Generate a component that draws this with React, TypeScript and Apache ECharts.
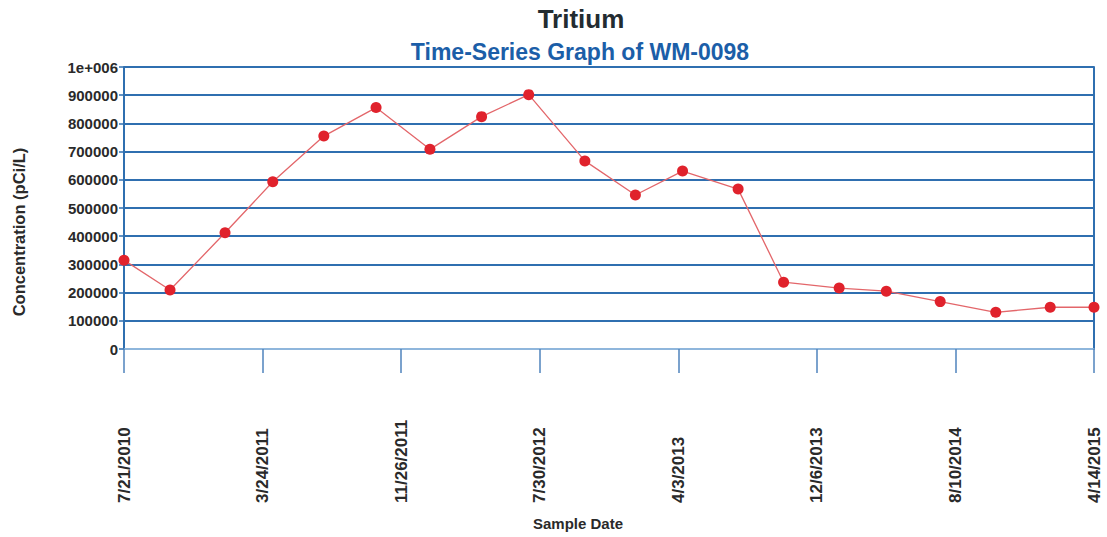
import React, { useEffect, useRef } from "react";
import * as echarts from "echarts";

// ---- data ----
const SAMPLE_DATES = [
  "2010-07-21", "2010-10-11", "2011-01-17", "2011-04-12", "2011-07-12",
  "2011-10-13", "2012-01-17", "2012-04-18", "2012-07-11", "2012-10-19",
  "2013-01-17", "2013-04-11", "2013-07-19", "2013-10-08", "2014-01-15",
  "2014-04-09", "2014-07-14", "2014-10-21", "2015-01-26", "2015-04-14",
];
const CONCENTRATION = [
  315000, 209000, 412000, 593000, 755000,
  856000, 708000, 824000, 902000, 667000,
  546000, 631000, 567000, 237000, 216000,
  205000, 168000, 130000, 148000, 148000,
];
const AXIS_START = "2010-07-21";
const AXIS_END = "2015-04-14";
const X_TICK_SEGMENTS = 7;
const Y_MAX = 1000000;
const Y_STEP = 100000;

const TITLE = "Tritium";
const SUBTITLE = "Time-Series Graph of WM-0098";
const Y_NAME = "Concentration (pCi/L)";
const X_NAME = "Sample Date";

const DAY = 86400000;
const toMs = (s: string) => {
  const [y, m, d] = s.split("-").map(Number);
  return Date.UTC(y, m - 1, d);
};
const startMs = toMs(AXIS_START);
// x is measured in sevenths of a day, so the 7 equal tick steps are whole numbers
const toX = (s: string) => Math.round(((toMs(s) - startMs) / DAY) * 7);
const X_MAX = toX(AXIS_END);
const X_INTERVAL = X_MAX / X_TICK_SEGMENTS;

const FONT = "'Liberation Sans', Arial, Helvetica, sans-serif";
const BLUE = "#2f6fb0";

export default function App() {
  const ref = useRef<HTMLDivElement>(null);
  useEffect(() => {
    if (!ref.current) return;
    const chart = echarts.init(ref.current, undefined, { renderer: "svg" });
    const splitColors = [
      "#8fb6dc",
      ...Array.from({ length: Y_MAX / Y_STEP }, () => BLUE),
    ];
    chart.setOption({
      animation: false,
      backgroundColor: "#ffffff",
      grid: {
        left: 124,
        right: 13,
        top: 67,
        bottom: 188,
        containLabel: false,
        outerBoundsMode: "none",
      },
      graphic: [
        {
          type: "text",
          x: 581,
          y: 6,
          style: {
            text: TITLE,
            font: `bold 26px ${FONT}`,
            fill: "#232c31",
            textAlign: "center",
          },
        },
        {
          type: "text",
          x: 580,
          y: 40,
          style: {
            text: SUBTITLE,
            font: `bold 23px ${FONT}`,
            fill: "#1b5ea8",
            textAlign: "center",
          },
        },
        {
          type: "text",
          x: 19,
          y: 232,
          rotation: Math.PI / 2,
          style: {
            text: Y_NAME,
            font: `bold 16.5px ${FONT}`,
            fill: "#2a2a2a",
            textAlign: "center",
            textVerticalAlign: "middle",
          },
        },
        {
          type: "text",
          x: 578,
          y: 523,
          style: {
            text: X_NAME,
            font: `bold 15px ${FONT}`,
            fill: "#2a2a2a",
            textAlign: "center",
            textVerticalAlign: "middle",
          },
        },
      ],
      xAxis: {
        type: "value",
        min: 0,
        max: X_MAX,
        interval: X_INTERVAL,
        axisLine: { show: true, lineStyle: { color: "#8fb6dc", width: 1.5 } },
        axisTick: { show: true, length: 24, lineStyle: { color: "#4f83bd", width: 1.5 } },
        splitLine: { show: false },
        axisLabel: {
          rotate: 90,
          margin: 154,
          align: "left",
          verticalAlign: "middle",
          fontFamily: FONT,
          fontWeight: "bold",
          fontSize: 17,
          color: "#2a2a2a",
          showMinLabel: true,
          showMaxLabel: true,
          formatter: (v: number) => {
            const d = new Date(startMs + Math.floor(v / 7 + 1e-6) * DAY);
            return `${d.getUTCMonth() + 1}/${d.getUTCDate()}/${d.getUTCFullYear()}`;
          },
        },
      },
      yAxis: [
        {
          type: "value",
          min: 0,
          max: Y_MAX,
          interval: Y_STEP,
          axisLine: { show: true, lineStyle: { color: BLUE, width: 2 } },
          axisTick: { show: true, length: 5, lineStyle: { color: BLUE, width: 1.5 } },
          splitLine: { show: true, lineStyle: { color: splitColors, width: 2 } },
          axisLabel: {
            margin: 6,
            fontFamily: FONT,
            fontWeight: "bold",
            fontSize: 15,
            color: "#2a2a2a",
            formatter: (v: number) => (v === 1000000 ? "1e+006" : String(v)),
          },
        },
        {
          type: "value",
          position: "right",
          min: 0,
          max: Y_MAX,
          interval: Y_STEP,
          axisLine: { show: true, lineStyle: { color: BLUE, width: 2 } },
          axisTick: { show: false },
          axisLabel: { show: false },
          splitLine: { show: false },
        },
      ],
      series: [
        {
          type: "line",
          yAxisIndex: 0,
          data: SAMPLE_DATES.map((d, i) => [toX(d), CONCENTRATION[i]]),
          symbol: "circle",
          symbolSize: 11,
          lineStyle: { color: "#e3666a", width: 1.3 },
          itemStyle: { color: "#e0222c" },
          clip: false,
        },
      ],
    });
    return () => chart.dispose();
  }, []);
  return (
    <div
      ref={ref}
      style={{ position: "fixed", left: 0, top: 0, width: 1107, height: 537, background: "#fff" }}
    />
  );
}
